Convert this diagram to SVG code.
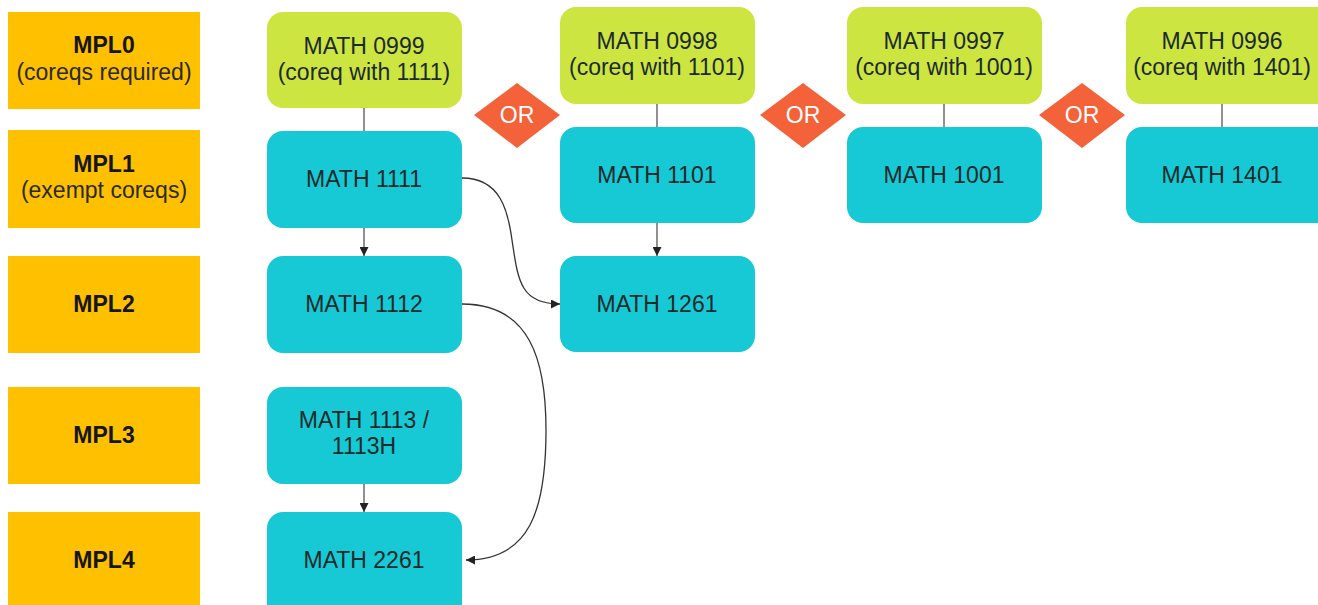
<svg xmlns="http://www.w3.org/2000/svg" width="1318" height="605" viewBox="0 0 1318 605">
<defs>
<marker id="arr" viewBox="0 0 10 10" refX="10" refY="5" markerWidth="10" markerHeight="9" markerUnits="userSpaceOnUse" orient="auto">
<path d="M0,0 L10,5 L0,10 Z" fill="#222"/>
</marker>
<style>
text{font-family:"Liberation Sans",Arial,Helvetica,sans-serif;font-size:23px;text-anchor:middle;fill:#1c2a2b}
.mpl{fill:#FFC000}
.b{font-weight:bold;fill:#151515}
.s{fill:#2a2a2a}
.co{fill:#CDE540}
.cr{fill:#16C9D4}
.or{fill:#F4623A}
.ort{fill:#fff}
.ln{stroke:#555;stroke-width:1.3;fill:none}
.cv{stroke:#333;stroke-width:1.3;fill:none}
</style>
</defs>
<rect width="1318" height="605" fill="#fff"/>

<g id="mpl0"><rect class="mpl" x="8" y="12" width="192" height="97"/><text class="b" x="104" y="53">MPL0</text><text class="s" x="104" y="80">(coreqs required)</text></g>
<g id="mpl1"><rect class="mpl" x="8" y="130" width="192" height="98"/><text class="b" x="104" y="172">MPL1</text><text class="s" x="104" y="198">(exempt coreqs)</text></g>
<g id="mpl2"><rect class="mpl" x="8" y="256" width="192" height="97"/><text class="b" x="104" y="312">MPL2</text></g>
<g id="mpl3"><rect class="mpl" x="8" y="387" width="192" height="97"/><text class="b" x="104" y="443">MPL3</text></g>
<g id="mpl4"><rect class="mpl" x="8" y="512" width="192" height="97"/><text class="b" x="104" y="568">MPL4</text></g>

<g id="connectors">
<line class="ln" x1="364" y1="108" x2="364" y2="131"/>
<line class="ln" x1="364" y1="228" x2="364" y2="256" marker-end="url(#arr)"/>
<line class="ln" x1="364" y1="484" x2="364" y2="512" marker-end="url(#arr)"/>
<line class="ln" x1="657" y1="104" x2="657" y2="127"/>
<line class="ln" x1="657" y1="223" x2="657" y2="256" marker-end="url(#arr)"/>
<line class="ln" x1="944" y1="104" x2="944" y2="127"/>
<line class="ln" x1="1222" y1="104" x2="1222" y2="127"/>
<path class="cv" d="M462,178 C500,178 508,210 512,240 C518,280 520,304 560,304" marker-end="url(#arr)"/>
<path class="cv" d="M462,304 C530,304 546,360 546,430 C546,510 530,560 466,560" marker-end="url(#arr)"/>
</g>

<g id="m0999"><rect class="co" x="267" y="12" width="195" height="96" rx="16"/><text x="364" y="54">MATH 0999</text><text x="364" y="80">(coreq with 1111)</text></g>
<g id="m1111"><rect class="cr" x="267" y="131" width="195" height="97" rx="16"/><text x="364" y="187">MATH 1111</text></g>
<g id="m1112"><rect class="cr" x="267" y="256" width="195" height="97" rx="16"/><text x="364" y="312">MATH 1112</text></g>
<g id="m1113"><rect class="cr" x="267" y="387" width="195" height="97" rx="16"/><text x="364" y="428">MATH 1113 /</text><text x="364" y="454">1113H</text></g>
<g id="m2261"><rect class="cr" x="267" y="512" width="195" height="110" rx="16"/><text x="364" y="568">MATH 2261</text></g>

<g id="m0998"><rect class="co" x="560" y="7" width="195" height="97" rx="16"/><text x="657" y="49">MATH 0998</text><text x="657" y="75">(coreq with 1101)</text></g>
<g id="m1101"><rect class="cr" x="560" y="127" width="195" height="96" rx="16"/><text x="657" y="183">MATH 1101</text></g>
<g id="m1261"><rect class="cr" x="560" y="256" width="195" height="96" rx="16"/><text x="657" y="312">MATH 1261</text></g>

<g id="m0997"><rect class="co" x="847" y="7" width="195" height="97" rx="16"/><text x="944" y="49">MATH 0997</text><text x="944" y="75">(coreq with 1001)</text></g>
<g id="m1001"><rect class="cr" x="847" y="127" width="195" height="96" rx="16"/><text x="944" y="183">MATH 1001</text></g>

<g id="m0996"><rect class="co" x="1126" y="7" width="210" height="97" rx="16"/><text x="1222" y="49">MATH 0996</text><text x="1222" y="75">(coreq with 1401)</text></g>
<g id="m1401"><rect class="cr" x="1126" y="127" width="210" height="96" rx="16"/><text x="1222" y="183">MATH 1401</text></g>

<g id="or1"><polygon class="or" points="517,83 560,115 517,148 474,115"/><text class="ort" x="517" y="123">OR</text></g>
<g id="or2"><polygon class="or" points="803,83 846,115 803,148 760,115"/><text class="ort" x="803" y="123">OR</text></g>
<g id="or3"><polygon class="or" points="1082,83 1125,115 1082,148 1039,115"/><text class="ort" x="1082" y="123">OR</text></g>
</svg>
